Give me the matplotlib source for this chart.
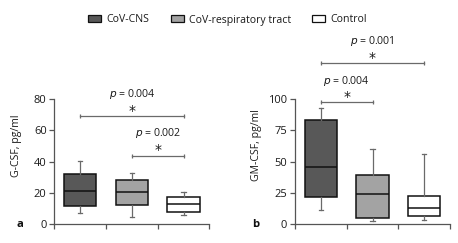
import matplotlib
matplotlib.use("Agg")
import matplotlib.pyplot as plt
from matplotlib.patches import Patch

plt.rcParams['font.family'] = ['Open Sans', 'DejaVu Sans']

groups = ["CoV-CNS", "CoV-respiratory tract", "Control"]
colors = ["#585858", "#a3a3a3", "#ffffff"]

# Panel a: G-CSF (whislo, q1, med, q3, whishi)
gcsf_low = [6.8, 4.7, 5.8]
gcsf_q1 = [11.5, 11.9, 7.7]
gcsf_med = [21.0, 20.5, 12.8]
gcsf_q3 = [32.0, 27.9, 17.1]
gcsf_high = [40.5, 32.9, 20.3]

# Panel b: GM-CSF
gmcsf_low = [11.2, 2.4, 3.2]
gmcsf_q1 = [21.9, 5.1, 6.4]
gmcsf_med = [45.3, 24.3, 12.5]
gmcsf_q3 = [82.9, 39.5, 22.7]
gmcsf_high = [92.5, 59.7, 55.7]

# significance annotations: (i, j, p-text)
sig_a = [(1, 3, "0.004"), (2, 3, "0.002")]
sig_b = [(1, 3, "0.001"), (1, 2, "0.004")]

fs = 7.6
fig = plt.figure(figsize=(4.58, 2.43), dpi=100)
axa = fig.add_axes([54.3/458, 19/243, 155.2/458, 125/243])
axb = fig.add_axes([295/458, 19/243, 155/458, 125/243])

def draw(ax, low, q1, med, q3, high, ymax, yticks, ylabel, labx):
    stats = []
    for i in range(3):
        stats.append(dict(whislo=low[i], q1=q1[i], med=med[i], q3=q3[i],
                          whishi=high[i], fliers=[], label=groups[i]))
    bp = ax.bxp(stats, positions=[1, 2, 3], widths=0.63, patch_artist=True,
                showfliers=False,
                boxprops=dict(edgecolor="#111111", linewidth=1.1),
                medianprops=dict(color="#111111", linewidth=1.1),
                whiskerprops=dict(color="#6a6a6a", linewidth=0.9),
                capprops=dict(color="#6a6a6a", linewidth=0.9),
                capwidths=0.09)
    for patch, c in zip(bp['boxes'], colors):
        patch.set_facecolor(c)
    ax.set_xlim(0.5, 3.5)
    ax.set_ylim(0, ymax)
    ax.set_yticks(yticks)
    ax.set_xticks([0.5, 1.5, 2.5, 3.5])
    ax.set_xticklabels([])
    for s in ["top", "right"]:
        ax.spines[s].set_visible(False)
    for s in ["left", "bottom"]:
        ax.spines[s].set_color("#555555")
        ax.spines[s].set_linewidth(0.9)
    ax.tick_params(axis="both", direction="out", length=3.5, width=0.9,
                   color="#555555", labelsize=fs + 0.4, labelcolor="#1a1a1a", pad=2)
    ax.set_ylabel(ylabel, fontsize=fs, color="#1a1a1a")
    ax.yaxis.set_label_coords(labx, 0.63)

def bracket(ax, x1, x2, yb, ya, yt, ptxt):
    ax.plot([x1, x2], [yb, yb], color="#6a6a6a", lw=0.9, clip_on=False,
            marker="|", markersize=3.5, markeredgewidth=0.9)
    xm = (x1 + x2) / 2
    ax.text(xm, ya, "*", ha="center", va="center", fontsize=fs + 2.5,
            color="#1a1a1a", clip_on=False, family="DejaVu Sans")
    ax.text(xm, yt, r"$p$ = " + ptxt, ha="center", va="center",
            fontsize=fs, color="#1a1a1a", clip_on=False)

draw(axa, gcsf_low, gcsf_q1, gcsf_med, gcsf_q3, gcsf_high, 80, [0, 20, 40, 60, 80],
     "G-CSF, pg/ml", -0.207)
draw(axb, gmcsf_low, gmcsf_q1, gmcsf_med, gmcsf_q3, gmcsf_high, 100, [0, 25, 50, 75, 100],
     "GM-CSF, pg/ml", -0.215)

bracket(axa, sig_a[0][0], sig_a[0][1], 69.3, 72.5, 83.2, sig_a[0][2])
bracket(axa, sig_a[1][0], sig_a[1][1], 43.5, 47.5, 58.0, sig_a[1][2])
bracket(axb, sig_b[0][0], sig_b[0][1], 129.0, 133.0, 146.4, sig_b[0][2])
bracket(axb, sig_b[1][0], sig_b[1][1], 97.8, 102.0, 114.6, sig_b[1][2])

fig.text(19.5/458, 1 - 224.5/243, "a", fontsize=fs + 0.5, fontweight="bold",
         ha="center", va="center", color="#111111")
fig.text(255.7/458, 1 - 224/243, "b", fontsize=fs + 0.5, fontweight="bold",
         ha="center", va="center", color="#111111")

handles = [Patch(facecolor=c, edgecolor="#111111", linewidth=0.9) for c in colors]
fig.legend(handles, groups, loc="center", bbox_to_anchor=(0.497, 1 - 20/243),
           ncol=3, frameon=False, fontsize=fs, handlelength=1.25,
           handleheight=0.65, handletextpad=0.5, columnspacing=2.0,
           labelcolor="#1a1a1a")

fig.savefig("out.png", dpi=100)
